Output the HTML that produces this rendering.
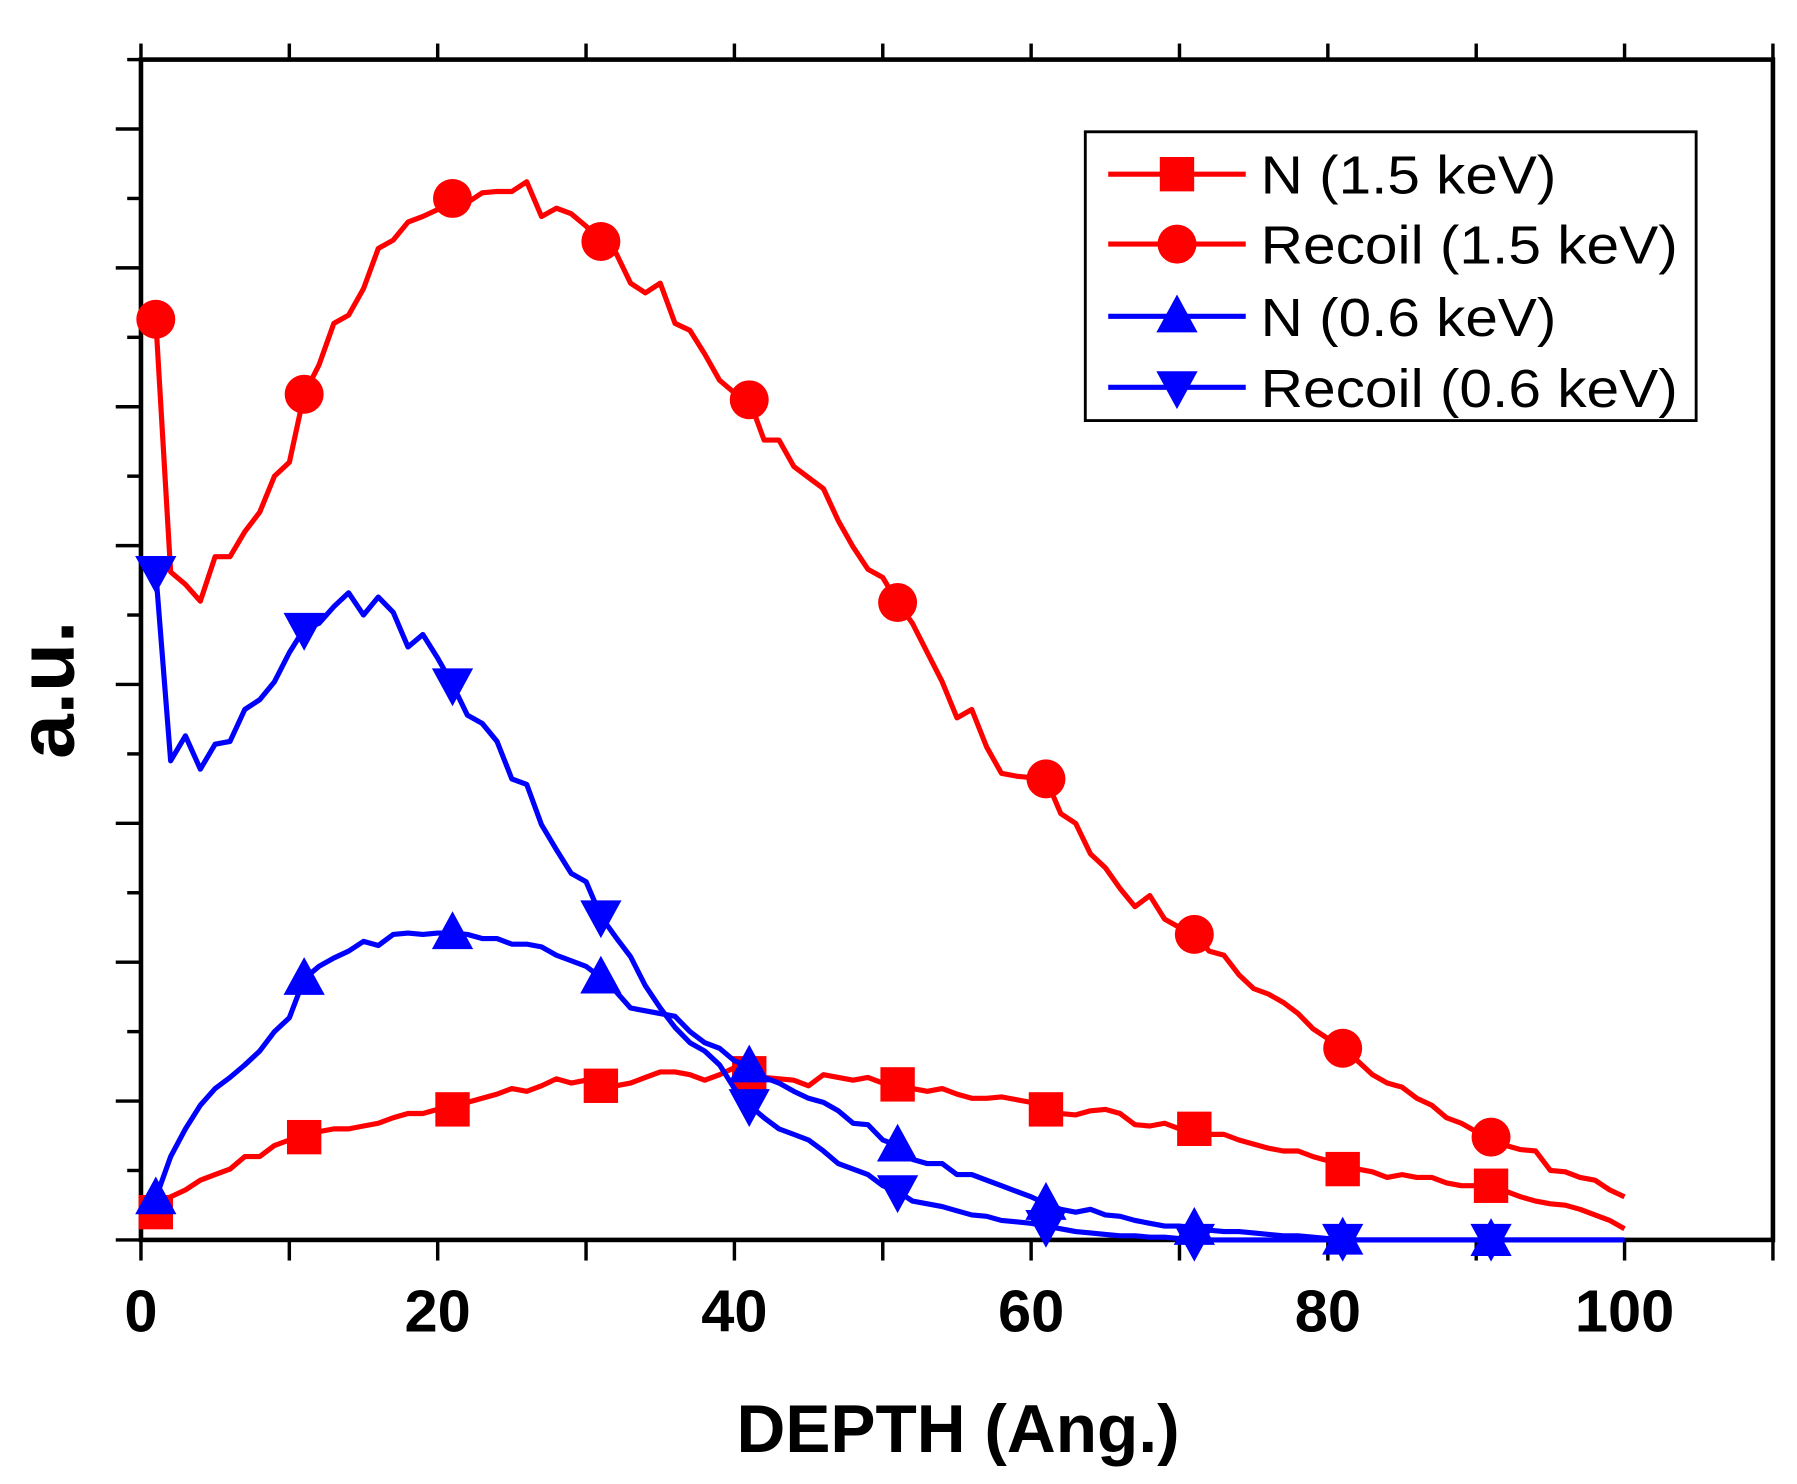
<!DOCTYPE html>
<html><head><meta charset="utf-8"><style>
html,body{margin:0;padding:0;background:#fff}
svg{display:block}
text{font-family:"Liberation Sans",Arial,sans-serif}
</style></head><body>
<svg id="chart" width="1797" height="1484" viewBox="0 0 1568 1295" preserveAspectRatio="none" xmlns="http://www.w3.org/2000/svg">
<g id="axes"></g>
<g id="series"></g>
<g id="legend"></g>
</svg>
<script>
const depth = Array.from({length:100},(_, i)=>i+1);
const recoil15 = [6.63,4.81,4.72,4.6,4.92,4.92,5.1,5.24,5.5,5.6,6.09,6.3,6.6,6.66,6.85,7.14,7.2,7.33,7.37,7.42,7.5,7.47,7.54,7.55,7.55,7.62,7.37,7.43,7.39,7.3,7.19,7.11,6.89,6.82,6.89,6.6,6.55,6.38,6.19,6.1,6.05,5.76,5.76,5.57,5.49,5.41,5.18,4.99,4.83,4.77,4.59,4.44,4.23,4.02,3.76,3.82,3.55,3.36,3.34,3.33,3.32,3.07,3.0,2.78,2.68,2.53,2.4,2.48,2.31,2.25,2.2,2.08,2.05,1.91,1.81,1.77,1.71,1.63,1.52,1.45,1.38,1.29,1.19,1.13,1.1,1.02,0.97,0.88,0.84,0.78,0.74,0.68,0.65,0.64,0.5,0.49,0.45,0.43,0.36,0.31];
const n15 = [0.2,0.31,0.36,0.43,0.47,0.51,0.6,0.6,0.68,0.72,0.74,0.78,0.8,0.8,0.82,0.84,0.88,0.91,0.91,0.94,0.94,0.99,1.02,1.05,1.09,1.07,1.11,1.16,1.13,1.15,1.11,1.11,1.13,1.17,1.21,1.21,1.19,1.15,1.19,1.24,1.2,1.17,1.16,1.15,1.11,1.19,1.17,1.15,1.17,1.13,1.12,1.09,1.07,1.09,1.05,1.02,1.02,1.03,1.01,0.99,0.94,0.91,0.9,0.93,0.94,0.91,0.83,0.82,0.84,0.8,0.8,0.76,0.76,0.72,0.69,0.66,0.64,0.64,0.6,0.57,0.51,0.51,0.49,0.45,0.47,0.45,0.45,0.41,0.39,0.39,0.39,0.35,0.31,0.28,0.26,0.25,0.22,0.18,0.14,0.08];
const n06 = [0.3,0.6,0.8,0.97,1.09,1.17,1.26,1.36,1.5,1.6,1.88,1.97,2.03,2.08,2.15,2.12,2.2,2.21,2.2,2.21,2.21,2.2,2.17,2.17,2.13,2.13,2.11,2.05,2.01,1.97,1.89,1.79,1.67,1.65,1.63,1.61,1.5,1.42,1.38,1.29,1.25,1.17,1.13,1.07,1.02,0.99,0.93,0.84,0.83,0.72,0.68,0.58,0.55,0.55,0.47,0.47,0.43,0.39,0.35,0.31,0.26,0.22,0.2,0.22,0.18,0.17,0.14,0.12,0.1,0.1,0.08,0.07,0.06,0.06,0.05,0.04,0.03,0.03,0.02,0.01,0.01,0,0,0,0,0,0,0,0,0,0,0,0,0,0,0,0,0,0,0];
const recoil06 = [4.81,3.45,3.63,3.39,3.57,3.59,3.82,3.89,4.02,4.23,4.4,4.44,4.56,4.66,4.5,4.63,4.52,4.27,4.36,4.19,4.0,3.78,3.72,3.59,3.32,3.28,2.99,2.81,2.64,2.58,2.33,2.18,2.04,1.83,1.67,1.53,1.42,1.36,1.26,1.09,0.97,0.88,0.8,0.76,0.72,0.64,0.55,0.51,0.47,0.39,0.35,0.28,0.26,0.24,0.21,0.18,0.17,0.14,0.13,0.12,0.1,0.08,0.06,0.05,0.04,0.03,0.03,0.02,0.02,0.01,0,0,0,0,0,0,0,0,0,0,0,0,0,0,0,0,0,0,0,0,0,0,0,0,0,0,0,0,0,0];
const xTicks = [0,20,40,60,80,100];
const seriesNames = ["N (1.5 keV)","Recoil (1.5 keV)","N (0.6 keV)","Recoil (0.6 keV)"];

const L=123,R=1547,T=52,B=1082;
const X0=0,X1=110,Y0=0,Y1=8.5;
const sx=v=>L+(v-X0)/(X1-X0)*(R-L);
const sy=v=>B-(v-Y0)/(Y1-Y0)*(B-T);
const NS="http://www.w3.org/2000/svg";
function mk(tag,attrs,parent){const e=document.createElementNS(NS,tag);for(const k in attrs)e.setAttribute(k,attrs[k]);parent.appendChild(e);return e;}

const axes=document.getElementById('axes');
const frame=mk('rect',{x:L,y:T,width:R-L,height:B-T,fill:'none',stroke:'#000','stroke-width':4},axes);


for(let v=0;v<=110;v+=10){
  const x=sx(v);
  const tb=mk('line',{x1:x,y1:B,x2:x,y2:B+18,stroke:'#000','stroke-width':3},axes);
  
  
  const tt=mk('line',{x1:x,y1:T,x2:x,y2:T-14,stroke:'#000','stroke-width':3},axes);
  
  
}
for(let v=0;v<=8.5;v+=0.5){
  const y=sy(v);const major=Math.abs(v-Math.round(v))<1e-6;
  const t=mk('line',{x1:L,y1:y,x2:major?L-22:L-12,y2:y,stroke:'#000','stroke-width':3},axes);
  
  
}
xTicks.forEach(v=>{
  const t=mk('text',{x:sx(v),y:1162,'text-anchor':'middle','font-size':52,'font-weight':'bold'},axes);
  t.textContent=v;
  
  
});
const xt=mk('text',{x:836,y:1267,'text-anchor':'middle','font-size':59,'font-weight':'bold'},axes);
xt.textContent='DEPTH (Ang.)';


const yt=mk('text',{x:0,y:0,'text-anchor':'middle','font-size':70,'font-weight':'bold',transform:'translate(64,602) rotate(-90)'},axes);
yt.textContent='a.u.';



function marker(kind,cx,cy,color,parent){
  let e;
  if(kind==='square') e=mk('rect',{x:cx-15,y:cy-15,width:30,height:30,fill:color},parent);
  else if(kind==='circle') e=mk('circle',{cx:cx,cy:cy,r:17,fill:color},parent);
  else if(kind==='up') e=mk('polygon',{points:`${cx},${cy-19} ${cx+18},${cy+14} ${cx-18},${cy+14}`,fill:color},parent);
  else e=mk('polygon',{points:`${cx},${cy+19} ${cx+18},${cy-14} ${cx-18},${cy-14}`,fill:color},parent);
  return e;
}
const defs=[[n15,'#ff0000','square','n-1-5kev'],[recoil15,'#ff0000','circle','recoil-1-5kev'],[n06,'#0000ff','up','n-0-6kev'],[recoil06,'#0000ff','down','recoil-0-6kev']];
const sg=document.getElementById('series');
defs.forEach(([vals,color,kind,name])=>{
  const g=mk('g',{},sg);
  
  
  const d=vals.map((v,i)=>(i?'L':'M')+sx(depth[i]).toFixed(1)+','+sy(v).toFixed(1)).join(' ');
  const p=mk('path',{d:d,fill:'none',stroke:color,'stroke-width':4.5,'stroke-linejoin':'round'},g);
  
  
  for(let i=0;i<vals.length;i+=10){
    const m=marker(kind,sx(depth[i]),sy(vals[i]),color,g);
    
    
  }
});
const lg=document.getElementById('legend');
const box=mk('rect',{x:947,y:115,width:533,height:252,fill:'#fff',stroke:'#000','stroke-width':2.5},lg);


const lys=[152,213,276,338];
const lw=[258,364,258,364];
defs.forEach(([vals,color,kind,name],i)=>{
  const g=mk('g',{},lg);
  
  
  mk('line',{x1:967,y1:lys[i],x2:1087,y2:lys[i],stroke:color,'stroke-width':4.5},g);
  marker(kind,1027,lys[i],color,g);
  const t=mk('text',{x:1100,y:lys[i]+17,'font-size':47,textLength:lw[i],lengthAdjust:'spacingAndGlyphs'},g);
  t.textContent=seriesNames[i];
  
  
});
</script>
</body></html>
